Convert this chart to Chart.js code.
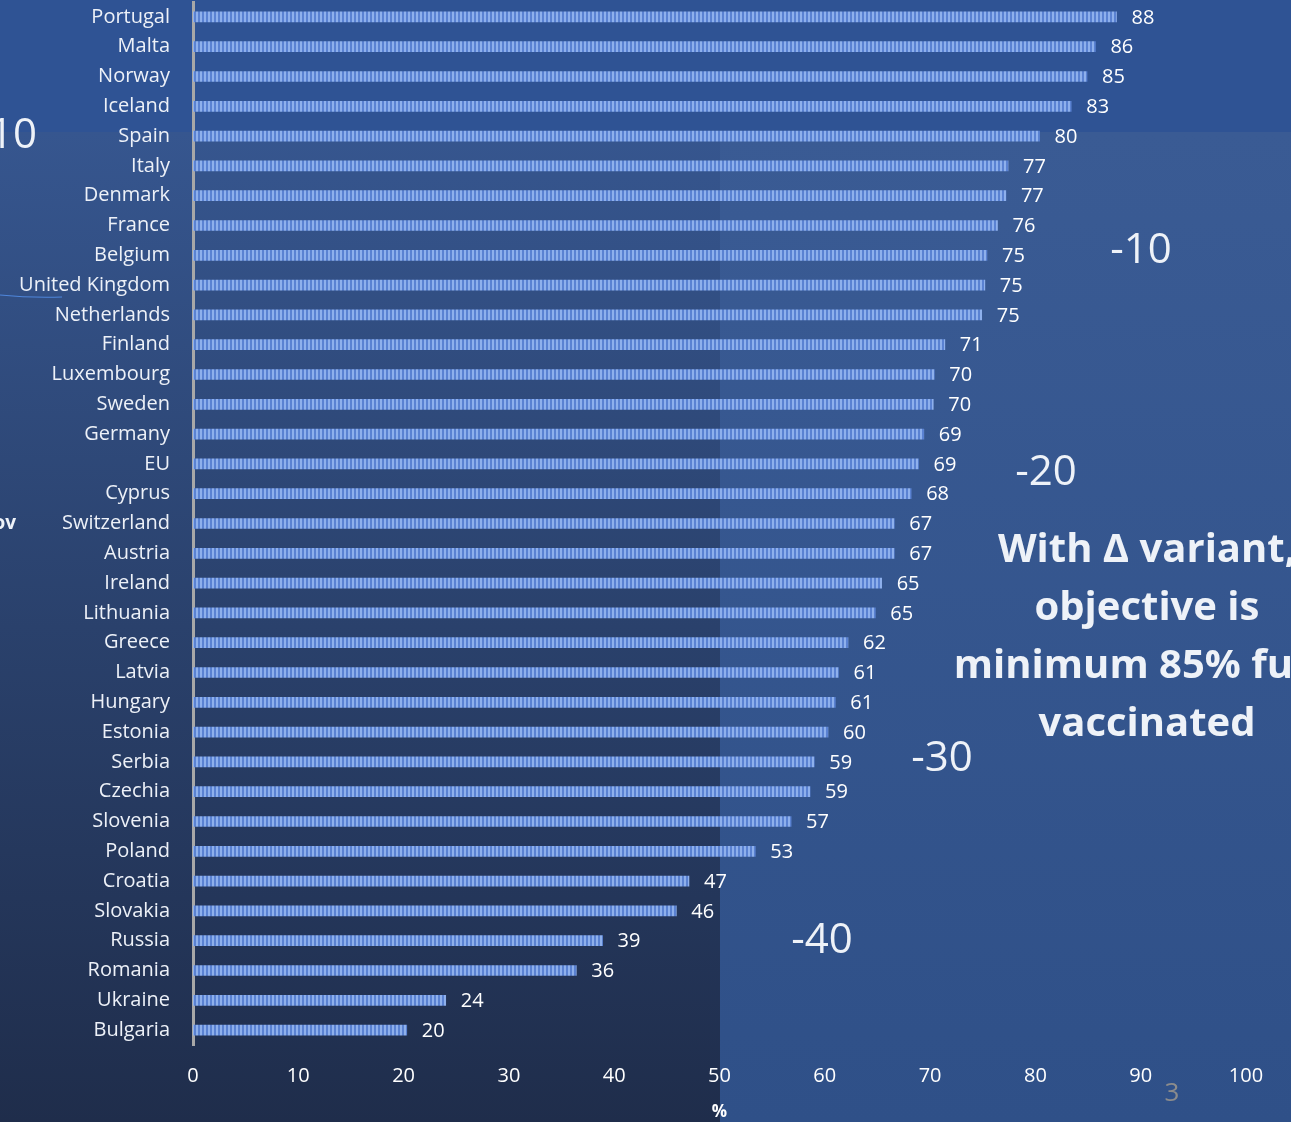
<!DOCTYPE html>
<html>
<head>
<meta charset="utf-8">
<script src="https://cdn.jsdelivr.net/npm/chart.js@4.4.1/dist/chart.umd.min.js"></script>
<style>
  body { margin: 0; background: #2f5394; }
  canvas { display: block; }
</style>
</head>
<body>
<canvas id="myChart" width="1291" height="1122"></canvas>
<script>
// data
var countries = ["Portugal", "Malta", "Norway", "Iceland", "Spain", "Italy", "Denmark", "France",
    "Belgium", "United Kingdom", "Netherlands", "Finland", "Luxembourg", "Sweden", "Germany", "EU",
    "Cyprus", "Switzerland", "Austria", "Ireland", "Lithuania", "Greece", "Latvia", "Hungary",
    "Estonia", "Serbia", "Czechia", "Slovenia", "Poland", "Croatia", "Slovakia", "Russia",
    "Romania", "Ukraine", "Bulgaria"];
var vaccinated = [87.7, 85.7, 84.9, 83.4, 80.4, 77.4, 77.2, 76.4,
    75.4, 75.2, 74.9, 71.4, 70.4, 70.3, 69.4, 68.9,
    68.2, 66.6, 66.6, 65.4, 64.8, 62.2, 61.3, 61.0,
    60.3, 59.0, 58.6, 56.8, 53.4, 47.1, 45.9, 38.9,
    36.4, 24.0, 20.3];
var xTicks = [0, 10, 20, 30, 40, 50, 60, 70, 80, 90, 100];
var gapNotes = ["10", "-10", "-20", "-30", "-40"];
var message = ["With \u0394 variant,", "objective is", "minimum 85% fully", "vaccinated"];

var FONT = "'Open Sans', sans-serif";

// striped fill like the original bars
function stripes() {
    var c = document.createElement("canvas");
    c.width = 4; c.height = 1;
    var g = c.getContext("2d");
    g.fillStyle = "#5a82d2"; g.fillRect(0, 0, 4, 1);
    g.fillStyle = "#8eb0ec"; g.fillRect(0, 0, 2, 1);
    return g.createPattern(c, "repeat");
}

var background = {
    id: "background",
    beforeDraw: function (chart) {
        var ctx = chart.ctx, w = chart.width, h = chart.height;
        ctx.save();
        ctx.fillStyle = "#2f5394";
        ctx.fillRect(0, 0, w, 132);
        var right = ctx.createLinearGradient(0, 132, 0, h);
        right.addColorStop(0, "#3a5b94");
        right.addColorStop(1, "#2f5088");
        ctx.fillStyle = right;
        ctx.fillRect(720, 132, w - 720, h - 132);
        var left = ctx.createLinearGradient(0, 132, 0, h);
        left.addColorStop(0, "#36568f");
        left.addColorStop(0.5, "#2a416c");
        left.addColorStop(1, "#1f2d4b");
        ctx.fillStyle = left;
        ctx.fillRect(0, 132, 720, h - 132);
        ctx.restore();
    }
};

var valueLabels = {
    id: "valueLabels",
    afterDatasetsDraw: function (chart) {
        var ctx = chart.ctx;
        var meta = chart.getDatasetMeta(0);
        ctx.save();
        ctx.font = "20px " + FONT;
        ctx.fillStyle = "#ffffff";
        ctx.textAlign = "left";
        ctx.textBaseline = "middle";
        meta.data.forEach(function (bar, i) {
            ctx.fillText(Math.round(vaccinated[i]), bar.x + 15, bar.y + 1);
        });
        ctx.restore();
    }
};

var notes = {
    id: "notes",
    afterDraw: function (chart) {
        var ctx = chart.ctx;
        ctx.save();
        ctx.fillStyle = "#eef2f8";
        ctx.textBaseline = "middle";
        ctx.font = "42px " + FONT;
        ctx.textAlign = "right";
        ctx.fillText(gapNotes[0], 37, 136);
        ctx.textAlign = "center";
        ctx.fillText(gapNotes[1], 1141, 251);
        ctx.fillText(gapNotes[2], 1046, 473);
        ctx.fillText(gapNotes[3], 942, 759);
        ctx.fillText(gapNotes[4], 822, 941);

        ctx.font = "bold 19px " + FONT;
        ctx.textAlign = "right";
        ctx.fillText("ov", 16, 524);

        ctx.font = "bold 40px " + FONT;
        ctx.textAlign = "center";
        for (var i = 0; i < message.length; i++) {
            ctx.fillText(message[i], 1147, 551 + i * 58);
        }

        ctx.fillStyle = "#8c8c8c";
        ctx.font = "26px " + FONT;
        ctx.fillText("3", 1172, 1094);

        ctx.strokeStyle = "#4f86db";
        ctx.lineWidth = 1.2;
        ctx.beginPath();
        ctx.moveTo(0, 295);
        ctx.quadraticCurveTo(30, 298, 62, 297);
        ctx.stroke();
        ctx.restore();
    }
};

var ctx = document.getElementById("myChart");
var myChart = new Chart(ctx, {
    type: "bar",
    data: {
        labels: countries,
        datasets: [{
            label: "%",
            data: vaccinated,
            backgroundColor: stripes(),
            borderWidth: 0,
            barThickness: 10
        }]
    },
    options: {
        indexAxis: "y",
        responsive: false,
        animation: false,
        devicePixelRatio: 1,
        layout: { padding: { top: 2, right: 45, left: 0, bottom: 0 } },
        plugins: {
            legend: { display: false },
            tooltip: { enabled: false }
        },
        scales: {
            x: {
                min: 0,
                max: 100,
                afterBuildTicks: function (scale) {
                    scale.ticks = xTicks.map(function (v) { return { value: v }; });
                },
                afterFit: function (scale) { scale.height = 77; },
                grid: { display: false, drawTicks: false },
                border: { display: false },
                ticks: {
                    color: "#ffffff",
                    font: { size: 20, family: "'Open Sans', sans-serif" },
                    padding: 19,
                    maxRotation: 0
                },
                title: {
                    display: true,
                    text: "%",
                    color: "#ffffff",
                    font: { size: 17, weight: "bold", family: "'Open Sans', sans-serif" },
                    padding: { top: 0, bottom: 0 }
                }
            },
            y: {
                afterFit: function (scale) {
                    scale.width = 193;
                    scale.paddingTop = 0;
                    scale.paddingBottom = 0;
                },
                grid: { display: false, drawTicks: false },
                border: { display: true, color: "#a8a8a8", width: 3 },
                ticks: {
                    color: "#edf1f8",
                    font: { size: 20, family: "'Open Sans', sans-serif" },
                    padding: 23,
                    autoSkip: false
                }
            }
        }
    },
    plugins: [background, valueLabels, notes]
});
</script>
</body>
</html>
